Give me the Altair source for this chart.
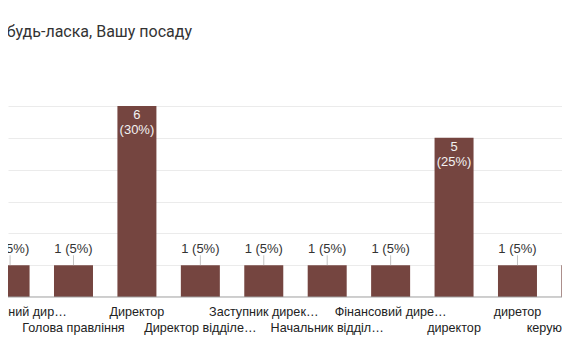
import altair as alt
import pandas as pd

TITLE = "Вкажіть, будь-ласка, Вашу посаду"

categories = [
    "Генеральний дир…",
    "Голова правління",
    "Директор",
    "Директор відділе…",
    "Заступник дирек…",
    "Начальник відділ…",
    "Фінансовий дире…",
    "директор",
    "диретор",
    "керуюча справами",
]
counts = [1, 1, 6, 1, 1, 1, 1, 5, 1, 1]
percents = [5, 5, 30, 5, 5, 5, 5, 25, 5, 5]

rows = []
for i, (c, n, p) in enumerate(zip(categories, counts, percents)):
    lab = f"{n} ({p}%)" if n < 3 else f"{n}\n({p}%)"
    rows.append({"i": i, "cat": c, "n": n, "lab": lab, "row": i % 2})
df = pd.DataFrame(rows)

W, H = 554, 348
FONT = "Liberation Sans"

xs = alt.X("i:Q", scale=alt.Scale(domain=[-0.0326, 8.702], nice=False, zero=False, padding=0), axis=None)
ys = alt.Y(
    "n:Q",
    scale=alt.Scale(domain=[-1.854, 9.080], nice=False, zero=False, padding=0),
    axis=alt.Axis(values=[1, 2, 3, 4, 5, 6], grid=True, gridColor="#ebebeb",
                  labels=False, ticks=False, domain=False, title=None),
)

base = alt.Chart(df)

bars = base.mark_bar(size=39, color="#754540", clip=True).encode(x=xs, y=ys, y2=alt.datum(0))

baseline = alt.Chart(alt.Data(values=[{"z": 0}])).mark_rule(color="#9e9e9e", strokeWidth=1).encode(
    y=alt.Y("z:Q"), x=alt.value(0), x2=alt.value(W)
)

small = base.transform_filter("datum.n < 3")
leaders = small.mark_tick(orient="vertical", size=10, thickness=1, yOffset=-5,
                          color="#aaaaaa", clip=True).encode(x=xs, y=ys)
small_labels = small.mark_text(dy=-12, baseline="alphabetic", fontSize=13, font=FONT,
                               color="#333333", clip=True).encode(x=xs, y=ys, text="lab:N")

big_labels = base.transform_filter("datum.n >= 3").mark_text(
    dy=13, baseline="alphabetic", lineBreak="\n", lineHeight=15, fontSize=13, font=FONT,
    color="#f2f2f2", clip=True).encode(x=xs, y=ys, text="lab:N")

cat1 = base.transform_filter("datum.row == 0").mark_text(
    baseline="alphabetic", fontSize=12.6, font=FONT, color="#222222", clip=True
).encode(x=xs, y=alt.value(307.7), text="cat:N")
cat2 = base.transform_filter("datum.row == 1").mark_text(
    baseline="alphabetic", fontSize=12.6, font=FONT, color="#222222", clip=True
).encode(x=xs, y=alt.value(324.3), text="cat:N")

title = alt.Chart(alt.Data(values=[{"t": TITLE}])).mark_text(
    align="right", baseline="alphabetic", fontSize=16, font="Roboto", color="#333333", clip=True
).encode(x=alt.value(184), y=alt.value(29), text="t:N")

chart = alt.layer(bars, baseline, leaders, small_labels, big_labels, cat1, cat2, title).properties(
    width=W, height=H, padding=0, autosize="none", background="white"
).configure_view(stroke=None)

chart.save("out.html", embed_options={"renderer": "svg", "actions": False})
